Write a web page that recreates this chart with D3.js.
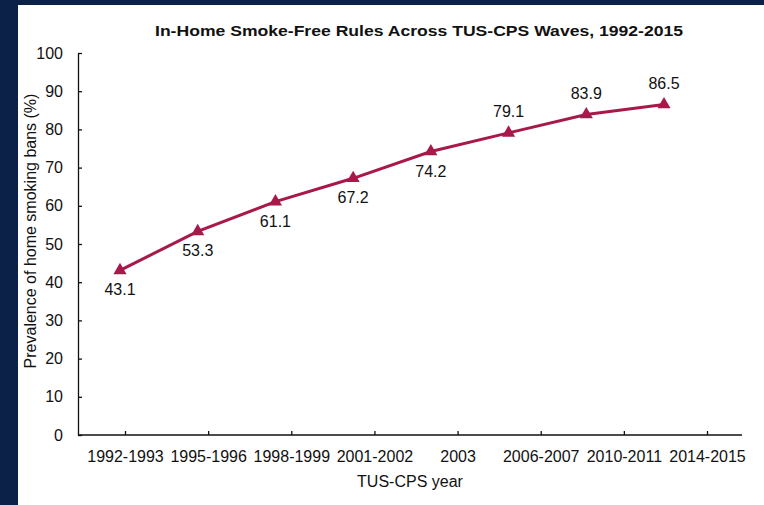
<!DOCTYPE html>
<html>
<head>
<meta charset="utf-8">
<script src="https://cdn.jsdelivr.net/npm/d3@7"></script>
<style>
  html, body { margin: 0; padding: 0; background: #0b2148; }
  svg { display: block; font-family: "Liberation Sans", Arial, sans-serif; }
</style>
</head>
<body>
<div id="canvas"></div>
<script>
"use strict"

/* Data */
let waves = ["1992-1993", "1995-1996", "1998-1999", "2001-2002",
             "2003", "2006-2007", "2010-2011", "2014-2015"];
let prevalence = [43.1, 53.3, 61.1, 67.2, 74.2, 79.1, 83.9, 86.5];
let labelSide = ["below", "below", "below", "below", "below", "above", "above", "above"];
let yTicks = [0, 10, 20, 30, 40, 50, 60, 70, 80, 90, 100];

/* Drawing config */
let svgWidth = 764;
let svgHeight = 505;
let navy = "#0b2148";
let lineColor = "#a8184b";

let svg = d3.select("#canvas")
    .append("svg")
    .attr("width", svgWidth)
    .attr("height", svgHeight);

// navy frame, white panel
svg.append("rect")
    .attr("width", svgWidth)
    .attr("height", svgHeight)
    .attr("fill", navy);
svg.append("rect")
    .attr("x", 18)
    .attr("y", 5)
    .attr("width", svgWidth - 18)
    .attr("height", svgHeight - 5)
    .attr("fill", "white");

/* scales */
let yScale = d3.scaleLinear()
    .domain([0, 100])
    .range([435, 53]);

// tick positions of the category axis
let tickScale = d3.scalePoint()
    .domain(waves)
    .range([125, 707]);

// markers sit on their own even spacing in the source chart
let markScale = d3.scalePoint()
    .domain(waves)
    .range([120, 664]);

let axisLeftX = 78;
let axisRightX = 742;

/* y axis */
let yAxis = svg.append("g")
    .attr("transform", "translate(" + axisLeftX + ",0)")
    .call(d3.axisLeft(yScale)
        .tickValues(yTicks)
        .tickSize(-4)
        .tickSizeOuter(0)
        .tickPadding(15));
yAxis.selectAll("path").attr("stroke", "#111").attr("stroke-width", 1.3);
yAxis.selectAll("line").attr("stroke", "#111").attr("stroke-width", 1.3);
yAxis.selectAll("text")
    .attr("font-size", 16)
    .attr("fill", "#111")
    .attr("font-family", "Liberation Sans, Arial, sans-serif");

/* x axis */
let xAxis = svg.append("g")
    .attr("transform", "translate(0," + yScale(0) + ")")
    .call(d3.axisBottom(tickScale)
        .tickSize(-4)
        .tickSizeOuter(0)
        .tickPadding(16));
xAxis.select(".domain").remove();
xAxis.selectAll("line").attr("stroke", "#111").attr("stroke-width", 1.3);
xAxis.selectAll("text")
    .attr("font-size", 16)
    .attr("fill", "#111")
    .attr("font-family", "Liberation Sans, Arial, sans-serif");

// baseline runs past the last tick
svg.append("line")
    .attr("x1", axisLeftX)
    .attr("x2", axisRightX)
    .attr("y1", yScale(0))
    .attr("y2", yScale(0))
    .attr("stroke", "#111")
    .attr("stroke-width", 1.3);

/* line + triangles */
let line = d3.line()
    .x(function (d, i) { return markScale(waves[i]); })
    .y(function (d) { return yScale(d); });

svg.append("path")
    .datum(prevalence)
    .attr("d", line)
    .attr("fill", "none")
    .attr("stroke", lineColor)
    .attr("stroke-width", 3);

svg.selectAll(".marker")
    .data(prevalence)
    .join("path")
    .attr("class", "marker")
    .attr("d", d3.symbol().type(d3.symbolTriangle).size(75))
    .attr("transform", function (d, i) {
        return "translate(" + markScale(waves[i]) + "," + yScale(d) + ")";
    })
    .attr("fill", lineColor);

/* value labels */
svg.selectAll(".val")
    .data(prevalence)
    .join("text")
    .attr("class", "val")
    .attr("x", function (d, i) { return markScale(waves[i]); })
    .attr("y", function (d, i) {
        return labelSide[i] === "below" ? yScale(d) + 25 : yScale(d) - 16;
    })
    .attr("text-anchor", "middle")
    .attr("font-size", 16)
    .attr("fill", "#111")
    .text(function (d) { return d.toFixed(1); });

/* title + axis labels */
svg.append("text")
    .attr("x", 419)
    .attr("y", 36)
    .attr("text-anchor", "middle")
    .attr("font-size", 15)
    .attr("font-weight", "bold")
    .attr("fill", "#111")
    .attr("textLength", 528)
    .attr("lengthAdjust", "spacingAndGlyphs")
    .text("In-Home Smoke-Free Rules Across TUS-CPS Waves, 1992-2015");

svg.append("text")
    .attr("x", 410)
    .attr("y", 487)
    .attr("text-anchor", "middle")
    .attr("font-size", 16)
    .attr("fill", "#111")
    .text("TUS-CPS year");

svg.append("text")
    .attr("transform", "translate(36," + 231 + ") rotate(-90)")
    .attr("text-anchor", "middle")
    .attr("font-size", 16)
    .attr("fill", "#111")
    .text("Prevalence of home smoking bans (%)");
</script>
</body>
</html>
